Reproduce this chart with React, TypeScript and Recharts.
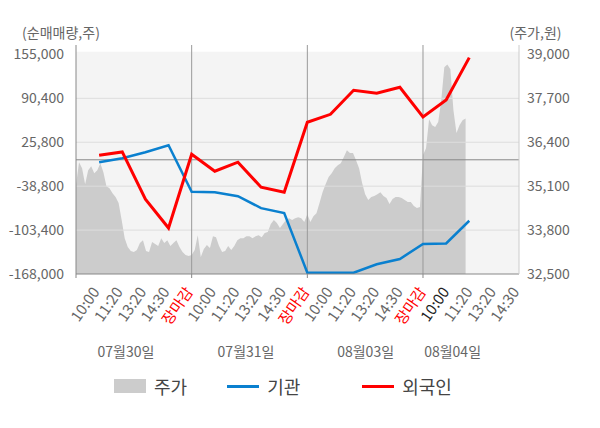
import { ComposedChart, Area, Line, XAxis, YAxis, ReferenceLine, ReferenceArea, Legend } from 'recharts';

const dayLabels = ['07월30일', '07월31일', '08월03일', '08월04일'];
const sessionLabels = ['10:00', '11:20', '13:20', '14:30', '장마감'];

// 주가(원) - one trading day spread over 5 slots
const price0730 = [35130, 35810, 35630, 35160, 35570, 35690, 35480, 35570, 35780, 35510, 35100, 35040, 34890, 34780, 34600, 34100, 33560, 33300, 33180, 33150, 33210, 33420, 33500, 33180, 33150, 33450, 33390, 33330, 33560, 33420, 33500, 33330, 33420, 33500, 33300, 33150, 33060, 33030];
const price0731 = [33060, 33210, 33650, 33000, 33240, 33360, 33270, 33620, 33590, 33330, 33150, 33180, 33330, 33210, 33330, 33500, 33560, 33560, 33620, 33620, 33560, 33620, 33650, 33590, 33710, 33740, 33980, 34100, 34010, 33860, 33980, 34100, 34150, 34100, 34150, 34180, 34150, 34040];
const price0803 = [34270, 34040, 34210, 34300, 34600, 34920, 35160, 35370, 35480, 35630, 35720, 35780, 35960, 36160, 36080, 36080, 35870, 35630, 35190, 34860, 34690, 34780, 34810, 34860, 34920, 34810, 34750, 34570, 34720, 34780, 34780, 34750, 34690, 34630, 34630, 34510, 34450, 34480];
const price0804 = [36020, 36220, 37080, 36900, 36850, 37000, 37640, 38620, 38700, 38560, 37350, 36670, 36900, 37050, 37100];

// 순매매량(주), one value per time slot
const foreignNet = [6700, 11600, -57900, -100400, 8200, -16800, -3500, -40300, -47600, 55200, 66900, 102200, 97800, 106600, 63000, 88000, 150300];
const institutionNet = [-3500, 2300, 11100, 21400, -47000, -47600, -53500, -71100, -78400, -166000, -166000, -166000, -153700, -145900, -123900, -123000, -89700];

const volumeTicks = [155000, 90400, 25800, -38800, -103400, -168000];
const priceTicks = [39000, 37700, 36400, 35100, 33800, 32500];
const gridValues = [90400, 25800, -38800, -103400];

const SLOTS_PER_DAY = 5;
const POINTS_PER_DAY = 38;
const LABEL_COUNT = 19;
const X_MAX = 19.15;
const dayBreaks = [0, 5, 10, 15];
// labels are spread evenly over the full axis width
const labelTicks = Array.from({ length: LABEL_COUNT }, (_, i) => ((i + 1) * X_MAX) / LABEL_COUNT);
const dateTicks = [2.16, 7.35, 12.52, 16.28];

const priceData = [price0730, price0731, price0803, price0804].flatMap((day, d) =>
  day.map((price, i) => ({ x: d * SLOTS_PER_DAY + (i * SLOTS_PER_DAY) / POINTS_PER_DAY, price }))
);
const foreignData = foreignNet.map((v, i) => ({ x: i + 1, v }));
const institutionData = institutionNet.map((v, i) => ({ x: i + 1, v }));

const RED = '#ff0000';
const BLUE = '#0a80cf';
const GRAY = '#cccccc';
const legendOrder = ['주가', '기관', '외국인'];
const legendGap = [40, 62, 0];

function AxisTick({ x, y, payload }: any) {
  const v = payload.value;
  const dateIdx = dateTicks.indexOf(v);
  if (dateIdx >= 0) {
    return (
      <text x={x} y={y + 78} dy="0.35em" textAnchor="middle" fill="#666" fontSize={14}>
        {dayLabels[dateIdx]}
      </text>
    );
  }
  if (dayBreaks.includes(v)) {
    return <line x1={x} x2={x} y1={y} y2={y + 4} stroke="#888" />;
  }
  const k = labelTicks.indexOf(v) + 1;
  const label = sessionLabels[(k - 1) % SLOTS_PER_DAY];
  const color = label === '장마감' ? RED : k === 16 ? '#222' : '#666';
  return (
    <text transform={`translate(${x + 1},${y + 18}) rotate(-55)`} textAnchor="end" fill={color} fontSize={15}>
      {label}
    </text>
  );
}

function LegendContent({ payload }: any) {
  const items = [...(payload || [])].sort((a, b) => legendOrder.indexOf(a.value) - legendOrder.indexOf(b.value));
  return (
    <div style={{ display: 'flex', alignItems: 'center', paddingLeft: 114, height: 28 }}>
      {items.map((item: any, i: number) => (
        <div key={item.value} style={{ display: 'flex', alignItems: 'center', marginRight: legendGap[i] }}>
          {item.type === 'square' ? (
            <span style={{ width: 32, height: 14, background: item.color, display: 'inline-block' }} />
          ) : (
            <span style={{ width: 32, height: 3, background: item.color, display: 'inline-block' }} />
          )}
          <span style={{ marginLeft: 8, fontSize: 18, color: '#444' }}>{item.value}</span>
        </div>
      ))}
    </div>
  );
}

export default function App() {
  return (
    <div style={{ position: 'absolute', left: 0, top: 0, fontFamily: '"Noto Sans CJK KR", "Noto Sans", sans-serif' }}>
      <ComposedChart width={600} height={428} margin={{ top: 45, right: 10, bottom: 60, left: 10 }}>
        <XAxis
          xAxisId="time"
          type="number"
          dataKey="x"
          domain={[0, X_MAX]}
          ticks={[...dayBreaks, ...labelTicks, ...dateTicks]}
          interval={0}
          tickSize={0}
          tickMargin={0}
          height={94}
          axisLine={{ stroke: '#888' }}
          tickLine={false}
          tick={<AxisTick />}
        />
        <YAxis
          yAxisId="vol"
          orientation="left"
          width={66}
          domain={[-168000, 168830]}
          ticks={volumeTicks}
          interval={0}
          tickSize={0}
          tickMargin={12}
          tickLine={false}
          axisLine={{ stroke: '#888' }}
          tick={{ fill: '#666', fontSize: 14 }}
          tickFormatter={(v: number) => v.toLocaleString('en-US')}
          label={{ value: '(순매매량,주)', position: 'top', offset: 7, dx: 18, fill: '#666', fontSize: 14 }}
        />
        <YAxis
          yAxisId="price"
          orientation="right"
          width={71}
          domain={[32500, 39278]}
          ticks={priceTicks}
          interval={0}
          tickSize={0}
          tickMargin={8}
          tickLine={false}
          axisLine={{ stroke: '#ccc' }}
          tick={{ fill: '#666', fontSize: 14 }}
          tickFormatter={(v: number) => v.toLocaleString('en-US')}
          label={{ value: '(주가,원)', position: 'top', offset: 7, dx: -19, fill: '#666', fontSize: 14 }}
        />
        <ReferenceArea
          xAxisId="time"
          yAxisId="vol"
          x1={0}
          x2={X_MAX}
          y1={-168000}
          y2={158970}
          fill="#f4f4f4"
          fillOpacity={1}
          stroke="none"
          ifOverflow="visible"
        />
        <Area
          xAxisId="time"
          yAxisId="price"
          data={priceData}
          dataKey="price"
          name="주가"
          type="linear"
          stroke="none"
          fill={GRAY}
          fillOpacity={1}
          legendType="square"
          isAnimationActive={false}
        />
        {gridValues.map((v) => (
          <ReferenceLine key={v} xAxisId="time" yAxisId="vol" y={v} stroke="#dddddd" />
        ))}
        <ReferenceLine xAxisId="time" yAxisId="vol" y={0} stroke="#888" />
        {dayBreaks.slice(1).map((k) => (
          <ReferenceLine key={k} xAxisId="time" yAxisId="vol" x={k} stroke="#999" />
        ))}
        <Line
          xAxisId="time"
          yAxisId="vol"
          data={institutionData}
          dataKey="v"
          name="기관"
          type="linear"
          stroke={BLUE}
          strokeWidth={2.5}
          dot={false}
          legendType="line"
          isAnimationActive={false}
        />
        <Line
          xAxisId="time"
          yAxisId="vol"
          data={foreignData}
          dataKey="v"
          name="외국인"
          type="linear"
          stroke={RED}
          strokeWidth={3}
          dot={false}
          legendType="line"
          isAnimationActive={false}
        />
        <Legend
          layout="horizontal"
          verticalAlign="middle"
          align="center"
          wrapperStyle={{ top: 372, left: 0, width: 600 }}
          content={<LegendContent />}
        />
      </ComposedChart>
    </div>
  );
}
